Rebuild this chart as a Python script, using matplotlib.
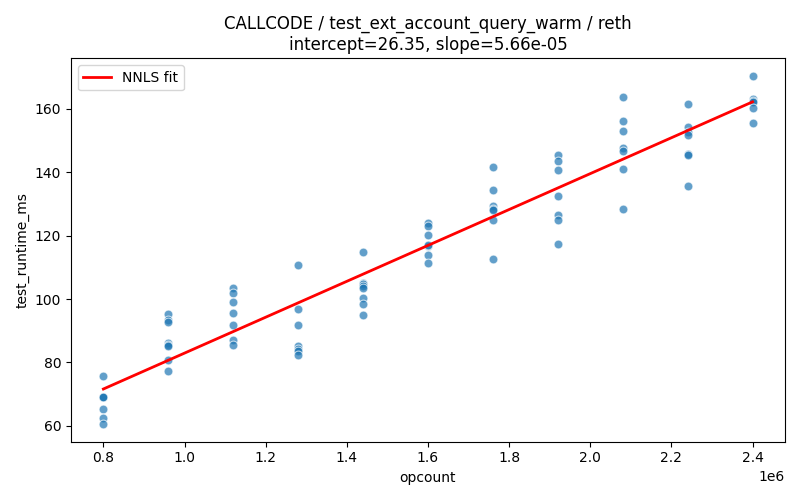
import numpy as np
import matplotlib
matplotlib.use("Agg")
import matplotlib.pyplot as plt

# opcount levels and measured runtimes (ms) per level
opcounts = [0.80e6, 0.96e6, 1.12e6, 1.28e6, 1.44e6, 1.60e6,
            1.76e6, 1.92e6, 2.08e6, 2.24e6, 2.40e6]
runtimes = [
    [75.8, 69.2, 69.1, 69.0, 65.3, 62.4, 60.5],
    [95.3, 93.4, 92.7, 86.1, 85.4, 85.2, 80.8, 77.4],
    [103.6, 101.9, 99.0, 95.6, 91.8, 87.1, 85.5],
    [110.8, 96.8, 91.8, 85.2, 84.4, 83.7, 82.4],
    [114.9, 105.0, 104.6, 104.2, 103.4, 100.3, 98.4, 94.9],
    [123.9, 123.1, 120.2, 116.6, 116.9, 113.8, 111.3],
    [141.7, 134.4, 129.4, 128.5, 128.1, 124.9, 112.6],
    [145.5, 143.4, 140.7, 132.6, 126.6, 124.9, 117.3],
    [163.8, 156.1, 153.0, 147.7, 146.8, 141.0, 128.4],
    [161.5, 154.2, 152.8, 151.7, 145.6, 145.4, 135.7],
    [170.4, 163.1, 162.6, 162.3, 160.2, 155.5],
]
intercept = 26.35
slope = 5.66e-05

x = np.concatenate([[oc] * len(r) for oc, r in zip(opcounts, runtimes)])
y = np.concatenate(runtimes)

fig, ax = plt.subplots(figsize=(8, 5), dpi=100)
ax.scatter(x, y, s=40, color="#1f77b4", alpha=0.7, edgecolors="white", linewidths=0.75)

xs = np.array([min(opcounts), max(opcounts)])
ax.plot(xs, intercept + slope * xs, color="red", linewidth=2, label="NNLS fit")

ax.set_xlabel("opcount")
ax.set_ylabel("test_runtime_ms")
ax.set_title("CALLCODE / test_ext_account_query_warm / reth\n"
             f"intercept={intercept:.2f}, slope={slope:.2e}")
ax.legend(loc="upper left")

fig.tight_layout()
fig.savefig("out.png")
